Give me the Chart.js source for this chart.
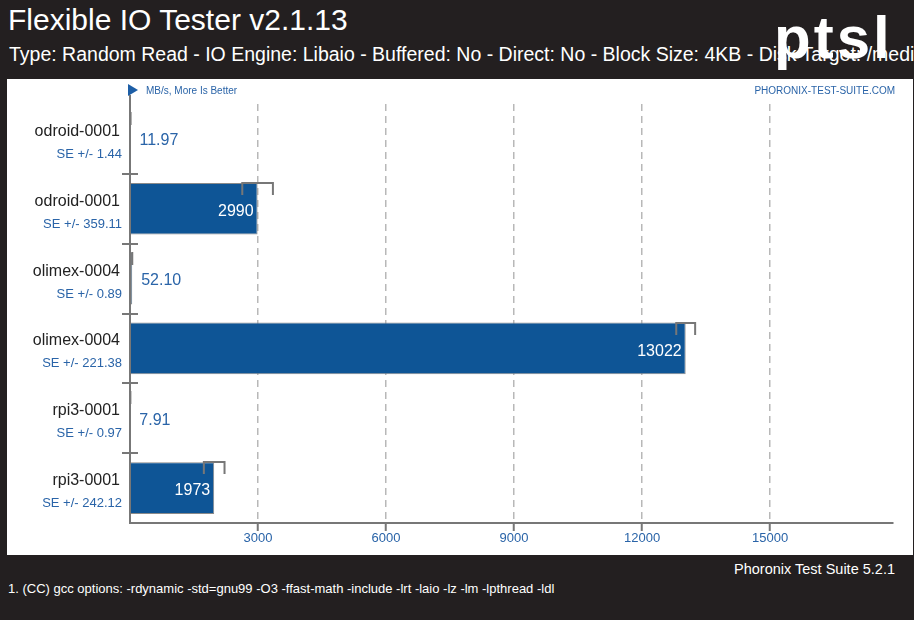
<!DOCTYPE html>
<html>
<head>
<meta charset="utf-8">
<script src="https://cdn.jsdelivr.net/npm/chart.js@4/dist/chart.umd.min.js"></script>
<style>
body { margin:0; width:914px; height:620px; background:#231f20; overflow:hidden; position:relative;
       font-family:'Liberation Sans', Arial, sans-serif; }
#title { position:absolute; left:8px; top:3px; color:#fff; font-size:30px; white-space:nowrap; }
#sub { position:absolute; left:9px; top:43px; color:#fff; font-size:19.5px; white-space:nowrap; width:905px; overflow:hidden; }
#logo { position:absolute; left:774px; top:3px; color:#fff; font-size:60px; font-weight:bold; letter-spacing:3px; }
#panel { position:absolute; left:7px; top:79px; width:906px; height:476px; background:#fff; }
#ver { position:absolute; right:19px; top:561px; color:#fff; font-size:14.5px; }
#note { position:absolute; left:8px; top:581px; color:#fff; font-size:13px; white-space:nowrap; }
</style>
</head>
<body>
<div id="title">Flexible IO Tester v2.1.13</div>
<div id="sub">Type: Random Read - IO Engine: Libaio - Buffered: No - Direct: No - Block Size: 4KB - Disk Target: /media/hd</div>
<div id="logo">ptsl</div>
<div id="panel"><canvas id="myChart" width="906" height="476"></canvas></div>
<div id="ver">Phoronix Test Suite 5.2.1</div>
<div id="note">1. (CC) gcc options: -rdynamic -std=gnu99 -O3 -ffast-math -include -lrt -laio -lz -lm -lpthread -ldl</div>
<script>
/* data */
const systems = ['odroid-0001', 'odroid-0001', 'olimex-0004', 'olimex-0004', 'rpi3-0001', 'rpi3-0001'];
const results = [11.97, 2990, 52.10, 13022, 7.91, 1973];
const stdErrors = [1.44, 359.11, 0.89, 221.38, 0.97, 242.12];
const xTicks = [3000, 6000, 9000, 12000, 15000];
const unitText = 'MB/s, More Is Better';

const BLUE = '#2a64a8';
const FONT = "'Liberation Sans', Arial, sans-serif";

function fmt(v) {
    return v >= 1000 ? String(Math.round(v)) : v.toFixed(2);
}

// names + SE lines left of the axis, the axis line itself and the little cross ticks between rows
const rowLabels = {
    id: 'rowLabels',
    afterDatasetsDraw(chart) {
        const {ctx, chartArea} = chart;
        const ys = chart.scales.y;
        ctx.save();
        ctx.setLineDash([]);
        ctx.textAlign = 'right';
        ctx.textBaseline = 'alphabetic';
        systems.forEach((name, i) => {
            const y = ys.getPixelForValue(i);
            ctx.fillStyle = '#222';
            ctx.font = '16px ' + FONT;
            ctx.fillText(name, chartArea.left - 10, y - 3);
            ctx.fillStyle = BLUE;
            ctx.font = '13px ' + FONT;
            ctx.fillText('SE +/- ' + stdErrors[i].toFixed(2), chartArea.left - 8, y + 19);
        });
        ctx.strokeStyle = '#777';
        ctx.lineWidth = 2;
        ctx.beginPath();
        ctx.moveTo(chartArea.left, chartArea.top);
        ctx.lineTo(chartArea.left, chartArea.bottom);
        ctx.stroke();
        for (let i = 0; i < systems.length - 1; i++) {
            const y = Math.round((ys.getPixelForValue(i) + ys.getPixelForValue(i + 1)) / 2);
            ctx.beginPath();
            ctx.moveTo(chartArea.left - 8, y);
            ctx.lineTo(chartArea.left + 8, y);
            ctx.stroke();
        }
        // unit legend + site name
        const top = chartArea.top;
        ctx.fillStyle = '#1d5ea6';
        ctx.beginPath();
        ctx.moveTo(chartArea.left - 2, top - 20);
        ctx.lineTo(chartArea.left + 8, top - 14);
        ctx.lineTo(chartArea.left - 2, top - 8);
        ctx.closePath();
        ctx.fill();
        ctx.beginPath();
        ctx.moveTo(chartArea.left, top - 9);
        ctx.lineTo(chartArea.left, top);
        ctx.stroke();
        ctx.font = '10px ' + FONT;
        ctx.fillStyle = BLUE;
        ctx.textBaseline = 'middle';
        ctx.textAlign = 'left';
        ctx.fillText(unitText, chartArea.left + 16, top - 13);
        ctx.textAlign = 'right';
        ctx.fillText('PHORONIX-TEST-SUITE.COM', chartArea.right + 2, top - 13);
        ctx.restore();
    }
};

// error brackets and value labels on the bars
const barExtras = {
    id: 'barExtras',
    afterDatasetsDraw(chart) {
        const {ctx} = chart;
        const xs = chart.scales.x;
        const meta = chart.getDatasetMeta(0);
        ctx.save();
        ctx.setLineDash([]);
        meta.data.forEach((bar, i) => {
            const v = results[i], se = stdErrors[i];
            const top = Math.round(bar.y - bar.height / 2);
            const x1 = xs.getPixelForValue(v - se);
            const x2 = xs.getPixelForValue(v + se);
            ctx.strokeStyle = '#777';
            ctx.lineWidth = 2;
            ctx.beginPath();
            ctx.moveTo(x1, top + 12);
            ctx.lineTo(x1, top);
            ctx.lineTo(x2, top);
            ctx.lineTo(x2, top + 12);
            ctx.stroke();

            const txt = fmt(v);
            ctx.font = '16px ' + FONT;
            ctx.textBaseline = 'middle';
            const w = ctx.measureText(txt).width;
            if (bar.x - bar.base > w + 12) {
                ctx.fillStyle = '#fff';
                ctx.textAlign = 'right';
                ctx.fillText(txt, bar.x - 4, bar.y + 3);
            } else {
                ctx.fillStyle = BLUE;
                ctx.textAlign = 'left';
                ctx.fillText(txt, bar.x + 9, bar.y + 2);
            }
        });
        ctx.restore();
    }
};

const data = {
    labels: systems,
    datasets: [{
        data: results,
        backgroundColor: '#0e5596',
        borderColor: '#8a8a8a',
        borderWidth: 1,
        barPercentage: 0.74,
        categoryPercentage: 1
    }]
};

const options = {
    indexAxis: 'y',
    responsive: false,
    animation: false,
    layout: {
        padding: {left: 0, top: 25, right: 20, bottom: 0}
    },
    scales: {
        x: {
            min: 0,
            max: 17880,
            afterBuildTicks: (s) => { s.ticks = xTicks.map(v => ({value: v})); },
            afterFit: (s) => { s.height = 32; },
            ticks: {
                color: BLUE,
                font: {family: FONT, size: 13},
                padding: 0,
                callback: (v) => String(v)
            },
            grid: {
                color: '#b8b8b8',
                lineWidth: 1.5,
                tickLength: 8,
                tickColor: '#777',
                tickWidth: 2,
                tickBorderDash: []
            },
            border: {
                display: true,
                color: '#777',
                width: 2,
                dash: [7, 5]
            }
        },
        y: {
            afterFit: (s) => { s.width = 123; },
            ticks: {display: false},
            grid: {display: false},
            border: {display: false}
        }
    },
    plugins: {
        legend: {display: false},
        tooltip: {enabled: false}
    }
};

const ctx = document.getElementById('myChart');
const myChart = new Chart(ctx, {
    type: 'bar',
    data,
    options,
    plugins: [rowLabels, barExtras]
});
</script>
</body>
</html>
